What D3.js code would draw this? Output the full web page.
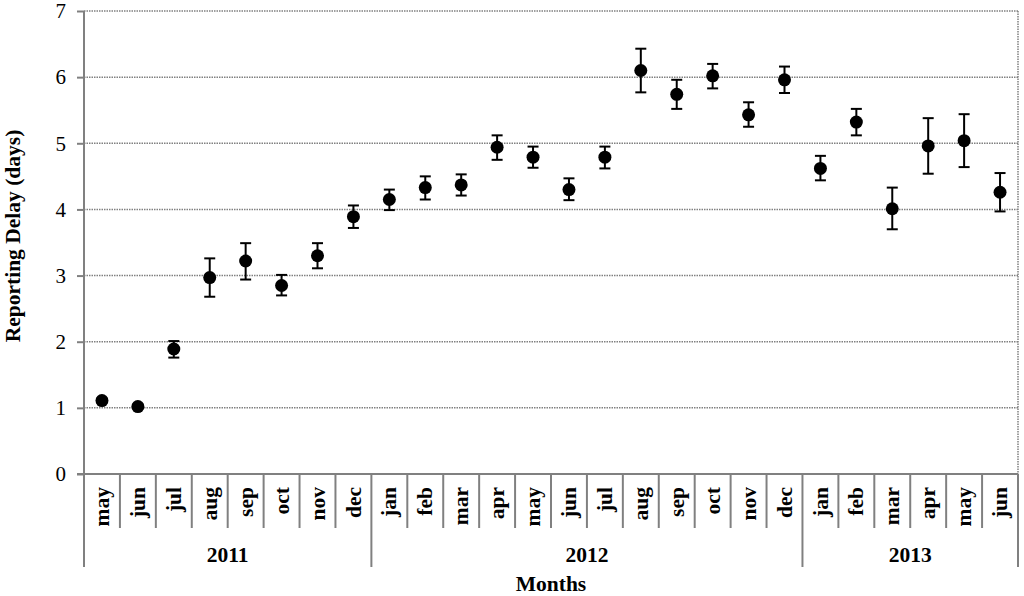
<!DOCTYPE html>
<html><head><meta charset="utf-8">
<script src="https://cdn.jsdelivr.net/npm/d3@7"></script>
<style>body{margin:0;background:#fff}svg{display:block}text{font-family:"Liberation Serif","Times New Roman",serif;fill:#000}</style>
</head><body><svg id="c" width="1024" height="596"></svg>
<script>
const months = ["may","jun","jul","aug","sep","oct","nov","dec","jan","feb","mar","apr","may","jun","jul","aug","sep","oct","nov","dec","jan","feb","mar","apr","may","jun"];
const years = ["2011","2011","2011","2011","2011","2011","2011","2011","2012","2012","2012","2012","2012","2012","2012","2012","2012","2012","2012","2012","2013","2013","2013","2013","2013","2013"];
const delay = [1.11,1.02,1.89,2.97,3.22,2.85,3.30,3.89,4.15,4.33,4.37,4.94,4.79,4.30,4.79,6.10,5.74,6.02,5.43,5.96,4.62,5.32,4.01,4.96,5.04,4.26];
const errLow = [1.08,0.99,1.76,2.68,2.94,2.70,3.11,3.72,3.99,4.15,4.21,4.75,4.63,4.14,4.62,5.77,5.52,5.83,5.25,5.76,4.44,5.12,3.70,4.54,4.64,3.97];
const errHigh = [1.14,1.05,2.01,3.26,3.49,3.01,3.49,4.06,4.30,4.50,4.53,5.12,4.95,4.47,4.95,6.43,5.96,6.20,5.62,6.16,4.81,5.52,4.33,5.38,5.44,4.55];
const yTicks = [0,1,2,3,4,5,6,7];
const yearNames = ["2011","2012","2013"];

const svg = d3.select("#c");
const L = 84, R = 1018, T = 11, B = 474;
const idx = d3.range(months.length);
const x = d3.scaleBand().domain(idx).range([L, R]).padding(0);
const y = d3.scaleLinear().domain([0, 7]).range([B, T]);
const gray = "#808080";

// gridlines
svg.append("g").selectAll("line").data(yTicks.filter(d => d > 0)).join("line")
  .attr("x1", L).attr("x2", R).attr("y1", d => y(d)).attr("y2", d => y(d))
  .attr("stroke", gray).attr("stroke-width", 1.5).attr("stroke-dasharray", "1.5,1");
// right border dotted
svg.append("line").attr("x1", R).attr("x2", R).attr("y1", T).attr("y2", B)
  .attr("stroke", gray).attr("stroke-width", 1.5).attr("stroke-dasharray", "1.5,1");

// y axis
const yAxis = d3.axisLeft(y).tickValues(yTicks).tickSize(7).tickPadding(11).tickFormat(d3.format("d"));
const gy = svg.append("g").attr("transform", `translate(${L},0)`).call(yAxis);
gy.select(".domain").remove();
gy.selectAll(".tick line").attr("stroke", gray).attr("stroke-width", 2);
gy.selectAll(".tick text").attr("font-family", "Liberation Serif").attr("font-size", 21).attr("fill", "#000");
svg.append("line").attr("x1", L).attr("x2", L).attr("y1", T).attr("y2", 567).attr("stroke", gray).attr("stroke-width", 2);

// x axis line
svg.append("line").attr("x1", L - 7).attr("x2", R).attr("y1", B).attr("y2", B).attr("stroke", gray).attr("stroke-width", 2);

// month dividers
svg.append("g").selectAll("line").data(idx.slice(1)).join("line")
  .attr("x1", d => x(d)).attr("x2", d => x(d)).attr("y1", B)
  .attr("y2", d => years[d] !== years[d-1] ? 567 : 528)
  .attr("stroke", gray).attr("stroke-width", 2);
svg.append("line").attr("x1", R).attr("x2", R).attr("y1", B).attr("y2", 567).attr("stroke", gray).attr("stroke-width", 2);

// month labels
svg.append("g").selectAll("text").data(idx).join("text")
  .attr("transform", d => `translate(${x(d) + x.bandwidth()/2},487) rotate(-90)`)
  .attr("text-anchor", "end").attr("dy", "0.33em")
  .attr("font-size", 21.5).attr("font-weight", "bold").text(d => months[d]);

// year labels
svg.append("g").selectAll("text").data(yearNames).join("text")
  .attr("x", yn => {
    const ii = idx.filter(i => years[i] === yn);
    return (x(ii[0]) + x(ii[ii.length-1]) + x.bandwidth()) / 2;
  })
  .attr("y", 562).attr("text-anchor", "middle")
  .attr("font-size", 21.5).attr("font-weight", "bold").text(d => d);

// axis titles
svg.append("text").attr("x", 551).attr("y", 591).attr("text-anchor", "middle")
  .attr("font-size", 21.5).attr("font-weight", "bold").text("Months");
svg.append("text").attr("transform", "translate(20,236) rotate(-90)").attr("text-anchor", "middle")
  .attr("font-size", 21.5).attr("font-weight", "bold").text("Reporting Delay (days)");

// error bars
const eb = svg.append("g").selectAll("g").data(idx).join("g");
const cx = d => x(d) + x.bandwidth()/2;
eb.append("line").attr("x1", cx).attr("x2", cx).attr("y1", d => y(errLow[d])).attr("y2", d => y(errHigh[d]))
  .attr("stroke", "#000").attr("stroke-width", 2);
eb.append("line").attr("x1", d => cx(d) - 5.5).attr("x2", d => cx(d) + 5.5).attr("y1", d => y(errHigh[d])).attr("y2", d => y(errHigh[d]))
  .attr("stroke", "#000").attr("stroke-width", 2);
eb.append("line").attr("x1", d => cx(d) - 5.5).attr("x2", d => cx(d) + 5.5).attr("y1", d => y(errLow[d])).attr("y2", d => y(errLow[d]))
  .attr("stroke", "#000").attr("stroke-width", 2);

// points
svg.append("g").selectAll("circle").data(idx).join("circle")
  .attr("cx", cx).attr("cy", d => y(delay[d])).attr("r", 6.5).attr("fill", "#000");
</script></body></html>
